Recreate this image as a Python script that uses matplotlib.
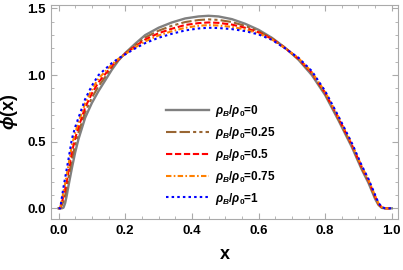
import matplotlib
matplotlib.use("Agg")
import matplotlib.pyplot as plt
from matplotlib.ticker import MultipleLocator

plt.rcParams.update({
    "font.family": ["Liberation Sans", "DejaVu Sans"],
    "font.weight": "bold",
    "mathtext.fontset": "custom",
    "mathtext.rm": "Liberation Sans:bold",
    "mathtext.it": "Liberation Sans:bold:italic",
    "mathtext.bf": "Liberation Sans:bold",
})

# values
x = [0, 0.005, 0.01, 0.015, 0.02, 0.025, 0.03, 0.04, 0.05, 0.06, 0.08, 0.10, 0.12,
     0.14, 0.16, 0.18, 0.20, 0.23, 0.26, 0.30, 0.34, 0.38, 0.42, 0.45, 0.48, 0.52,
     0.56, 0.60, 0.64, 0.68, 0.72, 0.76, 0.80, 0.84, 0.88, 0.91, 0.93, 0.95, 0.96,
     0.97, 0.98, 1.0]
phi_0 = [0, 0, 0, 0.005, 0.04, 0.10, 0.17, 0.30, 0.42, 0.52, 0.68, 0.79, 0.88,
         0.96, 1.04, 1.11, 1.165, 1.235, 1.30, 1.355, 1.395, 1.425, 1.44, 1.445, 1.44, 1.42,
         1.385, 1.34, 1.28, 1.205, 1.115, 1.00, 0.85, 0.66, 0.46, 0.29, 0.19, 0.07, 0.025,
         0.003, 0, 0]
phi_025 = [0, 0, 0.024, 0.052, 0.097, 0.16, 0.23, 0.366, 0.477, 0.568, 0.722, 0.829, 0.916,
           0.986, 1.055, 1.115, 1.162, 1.225, 1.282, 1.333, 1.37, 1.398, 1.413, 1.418, 1.414, 1.398,
           1.369, 1.33, 1.276, 1.204, 1.12, 1.009, 0.859, 0.669, 0.469, 0.299, 0.199, 0.079, 0.03,
           0.005, 0, 0]
phi_05 = [0, 0, 0.044, 0.09, 0.145, 0.21, 0.28, 0.421, 0.525, 0.608, 0.757, 0.862, 0.946,
          1.007, 1.068, 1.118, 1.16, 1.216, 1.267, 1.314, 1.348, 1.376, 1.39, 1.395, 1.392, 1.379,
          1.355, 1.321, 1.272, 1.202, 1.123, 1.017, 0.867, 0.677, 0.477, 0.307, 0.207, 0.087, 0.033,
          0.007, 0, 0]
phi_075 = [0, 0, 0.062, 0.126, 0.188, 0.256, 0.326, 0.472, 0.568, 0.645, 0.789, 0.891, 0.974,
           1.026, 1.079, 1.122, 1.157, 1.208, 1.253, 1.297, 1.329, 1.355, 1.37, 1.375, 1.372, 1.362,
           1.342, 1.313, 1.268, 1.201, 1.127, 1.023, 0.873, 0.683, 0.483, 0.313, 0.213, 0.093, 0.037,
           0.008, 0, 0]
phi_1 = [0, 0, 0.08, 0.16, 0.23, 0.30, 0.37, 0.52, 0.61, 0.68, 0.82, 0.92, 1.00,
         1.045, 1.09, 1.125, 1.155, 1.20, 1.24, 1.28, 1.31, 1.335, 1.35, 1.355, 1.353, 1.345,
         1.33, 1.305, 1.265, 1.20, 1.13, 1.03, 0.88, 0.69, 0.49, 0.32, 0.22, 0.10, 0.04,
         0.01, 0, 0]
ratios = ["0", "0.25", "0.5", "0.75", "1"]

series = [phi_0, phi_025, phi_05, phi_075, phi_1]
colors = ["#808080", "#996633", "#ff0000", "#ff8000", "#0000ff"]
dashes = [None, (5, 1.5, 5, 1.5, 1.5, 1.5, 1.5, 1.5), (3, 1.3), (2.6, 1.1, 0.8, 1.1), (1.2, 1.5)]

fig = plt.figure(figsize=(4.03, 2.70), dpi=100)
ax = fig.add_axes([0.127, 0.189, 0.861, 0.792])

for y, c, d, r in zip(series, colors, dashes, ratios):
    line, = ax.plot(x, y, color=c, lw=1.5 if d else 1.7,
                    label=r"$\rho_B/\rho_0$=" + r)
    if d:
        line.set_dashes(d)

ax.set_xlim(-0.022, 1.019)
ax.set_ylim(-0.08, 1.525)
ax.xaxis.set_major_locator(MultipleLocator(0.2))
ax.xaxis.set_minor_locator(MultipleLocator(0.05))
ax.yaxis.set_major_locator(MultipleLocator(0.5))
ax.yaxis.set_minor_locator(MultipleLocator(0.1))
ax.tick_params(which="both", direction="in", top=True, right=True, color="#aaaaaa",
               labelsize=9.5, pad=4)
ax.tick_params(which="major", length=4)
ax.tick_params(which="minor", length=2)
for s in ax.spines.values():
    s.set_color("#aaaaaa")
for lab in ax.get_xticklabels() + ax.get_yticklabels():
    lab.set_fontweight("bold")

ax.set_xlabel("x", fontsize=13, fontweight="bold", labelpad=7)
ax.set_ylabel(r"$\phi$(x)", fontsize=13, fontweight="bold", labelpad=5)

ax.legend(frameon=False, fontsize=8.5, loc="upper left", bbox_to_anchor=(0.315, 0.57),
          handlelength=3.6, handletextpad=0.5, labelspacing=0.5, borderpad=0)

fig.savefig("out.png", dpi=100)
